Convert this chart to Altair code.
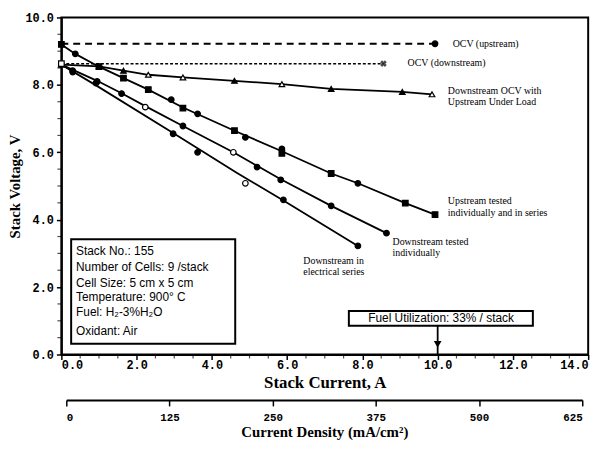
import altair as alt
import pandas as pd

# ---------------- data ----------------
up_ocv_x = [0.0, 9.93]
up_ocv_y = [9.22, 9.22]
dn_ocv_x = [0.0, 8.56]
dn_ocv_y = [8.63, 8.63]

load_x = [0.0, 1.0, 1.65, 2.31, 3.23, 4.6, 5.86, 7.17, 9.06, 9.85]
load_y = [8.6, 8.55, 8.42, 8.3, 8.22, 8.12, 8.02, 7.88, 7.79, 7.72]
load_fill = ["white", "white", "black", "white", "white", "black", "white", "black", "black", "white"]

up_x = [0.0, 0.37, 1.0, 1.65, 2.31, 2.92, 3.23, 3.62, 4.6, 4.89, 5.86, 5.86, 7.17, 7.88, 9.14, 9.93]
up_y = [9.2, 8.92, 8.54, 8.2, 7.86, 7.56, 7.31, 7.14, 6.64, 6.44, 6.1, 5.97, 5.37, 5.08, 4.49, 4.15]
up_shape = ["square", "circle", "square", "square", "square", "circle", "square", "circle",
            "square", "circle", "circle", "square", "square", "circle", "square", "square"]

up_line_x = [0.0, 0.37, 1.0, 1.65, 2.31, 3.23, 4.6, 5.86, 7.17, 7.88, 9.14, 9.93]
up_line_y = [9.2, 8.92, 8.54, 8.2, 7.86, 7.33, 6.64, 6.03, 5.37, 5.08, 4.49, 4.15]

dind_x = [0.0, 0.3, 0.95, 1.6, 2.23, 3.23, 4.57, 5.2, 5.83, 7.17, 8.64]
dind_y = [8.6, 8.42, 8.1, 7.74, 7.34, 6.78, 6.0, 5.56, 5.18, 4.41, 3.6]
dind_fill = ["white", "black", "black", "black", "white", "black", "white", "black", "black", "black", "black"]
dind_line_x = [0.0, 0.95, 1.6, 2.23, 3.23, 4.57, 5.83, 7.17, 8.64]
dind_line_y = [8.6, 8.12, 7.75, 7.37, 6.78, 6.0, 5.2, 4.41, 3.6]

dser_x = [0.3, 0.92, 2.97, 3.62, 4.89, 5.9, 7.88]
dser_y = [8.38, 8.05, 6.55, 6.0, 5.08, 4.59, 3.22]
dser_fill = ["black", "black", "black", "black", "white", "black", "black"]
dser_line_x = [0.0, 0.9, 2.97, 4.68, 5.9, 7.88]
dser_line_y = [8.6, 8.0, 6.57, 5.38, 4.57, 3.22]

ann_x = [10.4, 9.2, 10.27, 10.27, 10.27, 10.27, 8.8, 8.8, 6.43, 6.43]
ann_y = [9.22, 8.65, 7.81, 7.5, 4.54, 4.21, 3.33, 3.02, 2.76, 2.46]
ann_text = ["OCV (upstream)", "OCV (downstream)", "Downstream OCV with", "Upstream Under Load",
            "Upstream tested", "individually and in series", "Downstream tested", "individually",
            "Downstream in", "electrical series"]

info_x = 0.39
info_y = [3.07, 2.6, 2.13, 1.7, 1.26, 0.7]
info_text = ["Stack No.: 155", "Number of Cells: 9 /stack", "Cell Size: 5 cm x 5 cm",
             "Temperature: 900\u00b0 C", "Fuel: H\u2082-3%H\u2082O", "Oxidant: Air"]
info_box = {"x": 0.26, "x2": 4.62, "y": 3.42, "y2": 0.32}

fuel_box = {"x": 7.64, "x2": 12.53, "y": 1.29, "y2": 0.85}
fuel_text = "Fuel Utilization: 33% / stack"
fuel_text_xy = (10.09, 1.07)
fuel_arrow_x = 10.0

x_ticks = [0, 2, 4, 6, 8, 10, 12, 14]
y_ticks = [0, 2, 4, 6, 8, 10]
x_minor = [0.5, 1, 1.5, 2.5, 3, 3.5, 4.5, 5, 5.5, 6.5, 7, 7.5, 8.5, 9, 9.5, 10.5, 11, 11.5, 12.5, 13, 13.5]
y_minor = [0.5, 1, 1.5, 2.5, 3, 3.5, 4.5, 5, 5.5, 6.5, 7, 7.5, 8.5, 9, 9.5]
cd_ticks = [0, 125, 250, 375, 500, 625]

# ---------------- build tables ----------------
lines = pd.concat([
    pd.DataFrame({"s": "load", "x": load_x, "y": load_y}),
    pd.DataFrame({"s": "up", "x": up_line_x, "y": up_line_y}),
    pd.DataFrame({"s": "dind", "x": dind_line_x, "y": dind_line_y}),
    pd.DataFrame({"s": "dser", "x": dser_line_x, "y": dser_line_y}),
])
lines["o"] = range(len(lines))

pts = pd.concat([
    pd.DataFrame({"x": load_x, "y": load_y, "shape": "triangle-up", "fill": load_fill}),
    pd.DataFrame({"x": up_x, "y": up_y, "shape": up_shape, "fill": "black"}),
    pd.DataFrame({"x": dind_x, "y": dind_y, "shape": "circle", "fill": dind_fill}),
    pd.DataFrame({"x": dser_x, "y": dser_y, "shape": "circle", "fill": dser_fill}),
    pd.DataFrame({"x": [up_ocv_x[1]], "y": [up_ocv_y[1]], "shape": "circle", "fill": "black"}),
    pd.DataFrame({"x": [dn_ocv_x[0]], "y": [dn_ocv_y[0]], "shape": "square", "fill": "white"}),
])

XS = alt.Scale(domain=[0, 14], nice=False)
YS = alt.Scale(domain=[0, 10], nice=False)

X = alt.X("x:Q", scale=XS,
          axis=alt.Axis(values=x_ticks, format=".1f", title="Stack Current, A",
                        labelFont="Liberation Mono", labelFontWeight="bold", labelFontSize=12,
                        labelColor="black", tickSize=5, tickColor="black", tickWidth=1.5,
                        labelPadding=0, domainColor="black", domainWidth=2,
                        titleFont="Liberation Serif", titleFontSize=17, titleFontWeight="bold",
                        titleColor="black", titlePadding=4, grid=False))
Y = alt.Y("y:Q", scale=YS,
          axis=alt.Axis(values=y_ticks, format=".1f", title="Stack Voltage, V",
                        labelFont="Liberation Mono", labelFontWeight="bold", labelFontSize=12,
                        labelColor="black", tickSize=5, tickColor="black", tickWidth=1.5,
                        labelPadding=3, domainColor="black", domainWidth=2,
                        titleFont="Liberation Serif", titleFontSize=15, titleFontWeight="bold",
                        titleColor="black", titlePadding=3, grid=False))

line_layer = alt.Chart(lines).mark_line(color="black", strokeWidth=1.8).encode(
    x=X, y=Y, detail="s:N", order="o:Q")

ocv_up = alt.Chart(pd.DataFrame({"x": up_ocv_x, "y": up_ocv_y})).mark_line(
    color="black", strokeWidth=1.8, strokeDash=[7, 5]).encode(x="x:Q", y="y:Q")
ocv_dn = alt.Chart(pd.DataFrame({"x": dn_ocv_x, "y": dn_ocv_y})).mark_line(
    color="black", strokeWidth=1.5, strokeDash=[3, 2]).encode(x="x:Q", y="y:Q")

point_layer = alt.Chart(pts).mark_point(filled=True, stroke="black", strokeWidth=1.2, size=32, opacity=1).encode(
    x="x:Q", y="y:Q",
    shape=alt.Shape("shape:N", scale=None),
    fill=alt.Fill("fill:N", scale=None))

xmark = alt.Chart(pd.DataFrame({"x": [dn_ocv_x[1]], "y": [dn_ocv_y[1]]})).mark_point(
    shape="cross", filled=True, color="black", size=45, angle=45).encode(x="x:Q", y="y:Q")

ann = alt.Chart(pd.DataFrame({"x": ann_x, "y": ann_y, "t": ann_text})).mark_text(
    align="left", baseline="middle", font="Liberation Serif", fontSize=10, color="black").encode(
    x="x:Q", y="y:Q", text="t:N")

ibox = alt.Chart(pd.DataFrame([info_box])).mark_rect(
    fill="white", stroke="black", strokeWidth=2).encode(x="x:Q", x2="x2:Q", y="y:Q", y2="y2:Q")
itext = alt.Chart(pd.DataFrame({"x": info_x, "y": info_y, "t": info_text})).mark_text(
    align="left", baseline="middle", font="Liberation Sans", fontSize=12, color="black").encode(
    x="x:Q", y="y:Q", text="t:N")

fbox = alt.Chart(pd.DataFrame([fuel_box])).mark_rect(
    fill="white", stroke="black", strokeWidth=2).encode(x="x:Q", x2="x2:Q", y="y:Q", y2="y2:Q")
ftext = alt.Chart(pd.DataFrame({"x": [fuel_text_xy[0]], "y": [fuel_text_xy[1]], "t": [fuel_text]})).mark_text(
    align="center", baseline="middle", font="Liberation Sans", fontSize=12, color="black").encode(
    x="x:Q", y="y:Q", text="t:N")
farrow = alt.Chart(pd.DataFrame({"x": [fuel_arrow_x], "y": [fuel_box["y2"]], "y2": [0.0]})).mark_rule(
    color="black", strokeWidth=1.8).encode(x="x:Q", y="y:Q", y2="y2:Q")
fhead = alt.Chart(pd.DataFrame({"x": [fuel_arrow_x], "y": [0.3]})).mark_point(
    shape="triangle-down", filled=True, color="black", size=60, opacity=1).encode(x="x:Q", y="y:Q")

# minor ticks on the two axes (positions from the minor tick values, placed just outside the frame)
xminor = alt.Chart(pd.DataFrame({"x": x_minor})).mark_tick(
    orient="vertical", size=4, thickness=1.2, color="black").encode(x="x:Q", y=alt.value(343))
yminor = alt.Chart(pd.DataFrame({"y": y_minor})).mark_tick(
    orient="horizontal", size=4, thickness=1.2, color="black").encode(y="y:Q", x=alt.value(-2))

main = alt.layer(line_layer, ocv_up, ocv_dn, point_layer, xmark, ann, ibox, itext,
                 fbox, ftext, farrow, fhead, xminor, yminor)

cd = alt.Chart(pd.DataFrame({"cd": [0, 625]})).mark_point(opacity=0).encode(
    x=alt.X("cd:Q", scale=alt.Scale(domain=[0, 625], range=[5, 527], nice=False),
            axis=alt.Axis(orient="bottom", offset=46, values=cd_ticks, format="d",
                          title="Current Density (mA/cm\u00b2)",
                          labelFont="Liberation Mono", labelFontWeight="bold", labelFontSize=11,
                          labelColor="black", tickSize=6, tickColor="black", tickWidth=1.5,
                          labelPadding=6, domainColor="black", domainWidth=2,
                          titleFont="Liberation Serif", titleFontSize=15, titleFontWeight="bold",
                          titleColor="black", titlePadding=2, grid=False)),
    y=alt.value(0))

chart = alt.layer(main, cd).resolve_scale(x="independent").properties(
    width=533, height=341,
    autosize=alt.AutoSizeParams(type="none"),
    padding={"left": 54, "top": 7, "right": 15, "bottom": 90},
    background="white",
).configure_view(stroke="black", strokeWidth=2)

chart.save("out.html", embed_options={"renderer": "svg", "actions": False})
